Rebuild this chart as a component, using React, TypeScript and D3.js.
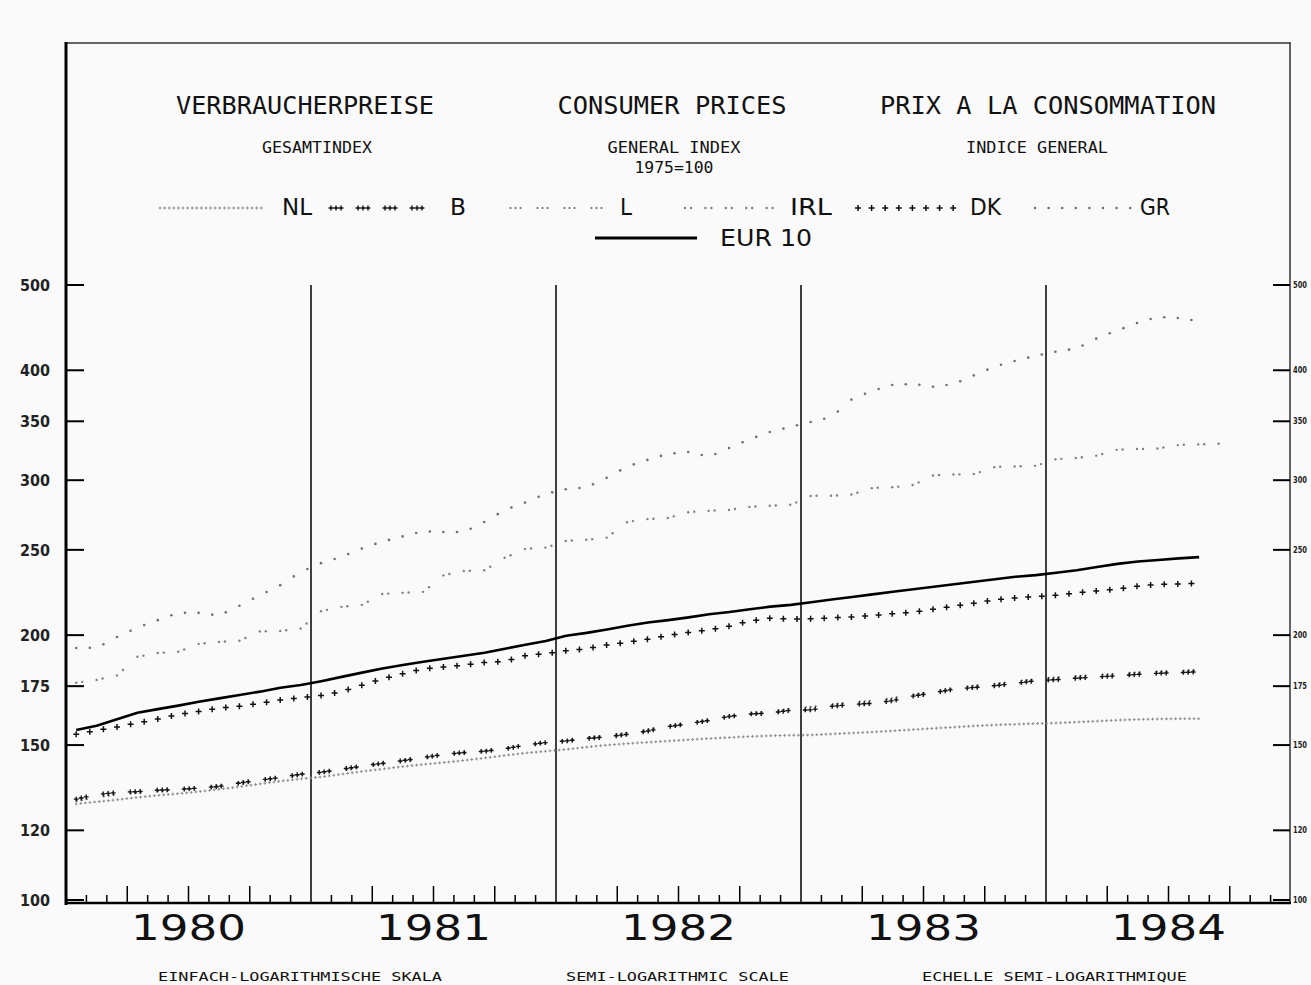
import React from "react";
import * as d3 from "d3";

// ---- DATA (monthly, Jan 1980 .. Aug 1984; 1975 = 100) ----
const YEARS = ["1980", "1981", "1982", "1983", "1984"];
const Y_TICKS = [100, 120, 150, 175, 200, 250, 300, 350, 400, 500];

const EUR10 = [
  156, 157.8, 160.5, 163.2, 164.8, 166.3, 168, 169.5, 171, 172.5, 174.3, 175.5,
  177.3, 179.3, 181.3, 183.3, 185, 186.5, 188, 189.5, 191, 193, 195, 197,
  199.7, 201.2, 203, 205, 206.7, 208, 209.5, 211.2, 212.5, 214, 215.5, 216.5,
  218, 219.5, 221, 222.5, 224, 225.5, 227, 228.5, 230, 231.5, 233, 234,
  235.5, 237, 239, 241, 242.5, 243.5, 244.5, 245.3,
];
const DK = [
  154.3, 155.8, 157.3, 158.9, 160.6, 162.5, 163.8, 165.2, 166, 167.3, 168.8, 169.7,
  170.8, 172.5, 175.5, 178.3, 180.8, 183.1, 184, 184.9, 186.2, 186.8, 189.6, 190.5,
  192, 193, 195, 196.3, 197.9, 199.8, 201.4, 202.8, 204.8, 207.5, 209.1, 208.6,
  208.8, 209.2, 209.8, 210.5, 211.5, 212.5, 214, 215.8, 217.5, 219.3, 220.5, 221.2,
  222, 223.3, 224.6, 225.6, 227.3, 228.5, 228.7, 229.1,
];
const GR = [
  193.4, 193.5, 199, 204, 208, 212, 212, 210.5, 216, 222, 228, 236,
  241.5, 245.5, 251, 255.5, 259, 262.5, 262, 262, 269, 277.5, 283, 289.5,
  293, 294.5, 302, 311, 316.5, 321.5, 323, 319, 326.5, 334, 340.5, 345,
  349.5, 354, 371, 379, 385, 386, 383, 386, 395, 404, 410, 415.5,
  420, 423.5, 435, 444, 453, 460, 458.5, 455,
];
const IRL = [
  176.6, 177.9, 180, 189, 190.9, 191.5, 195.5, 196.5, 197.1, 202, 202.2, 203.5,
  213, 215.4, 216.5, 222.8, 223.4, 224, 234, 236.6, 237, 245, 250.6, 251.5,
  256, 256.7, 258.2, 269, 271, 271.8, 276, 276.9, 277.6, 279.8, 280.6, 281.3,
  288, 288, 289, 294, 294.5, 296.3, 304, 304.5, 305, 310.6, 311, 311.5,
  317, 318, 320, 325, 325.5, 326, 329, 329.5, 330,
];
const B = [
  130.2, 131.8, 132.5, 132.8, 133.3, 133.6, 134, 134.6, 135.8, 136.9, 137.8, 139,
  139.7, 140.8, 142, 143, 144, 145.2, 146.4, 147.1, 147.6, 148.5, 150, 151,
  151.6, 152.6, 153.2, 154.3, 155.6, 157.4, 158.6, 160, 161.7, 162.7, 163.1, 164.3,
  164.5, 166, 166.8, 167.3, 168.5, 170.5, 172, 173.6, 174.4, 175.2, 176.3, 177.5,
  178, 178.7, 179.3, 179.8, 180.5, 181, 181.3, 181.7,
];
const L = [
  129.5, 130.8, 131.8, 132.3, 132.9, 133.4, 134.1, 135, 135.9, 136.8, 137.8, 138.8,
  139.6, 140.5, 141.6, 142.8, 143.8, 144.8, 146, 146.9, 147.8, 148.8, 149.9, 150.8,
  151.8, 153, 153.8, 154.9, 156.2, 157.8, 158.9, 160.2, 161.7, 163, 163.8, 165,
  165.8, 166.9, 167.8, 168.5, 169.6, 171.2, 172.6, 174, 175.2, 176.1, 177.2, 178.3,
  179.1, 179.7, 180.2, 180.8, 181.4, 181.8, 182.2, 182.6,
];
const NL = [
  128.6, 129.3, 130, 130.8, 131.5, 132.1, 132.8, 133.6, 134.5, 135.5, 136.5, 137.3,
  138, 139, 140, 140.9, 141.8, 142.6, 143.3, 144.1, 145, 146, 146.9, 147.6,
  148.3, 149.2, 150, 150.6, 151.1, 151.6, 152.1, 152.6, 153, 153.4, 153.7, 153.9,
  154, 154.4, 154.8, 155.2, 155.7, 156.2, 156.7, 157.2, 157.7, 158.1, 158.4, 158.7,
  158.9, 159.3, 159.7, 160.1, 160.4, 160.6, 160.7, 160.7,
];

// ---- SCALES ----
const x = d3.scaleLinear().domain([0, 60]).range([66, 1291]);
const y = d3.scaleLog().domain([100, 500]).range([900, 285]);

type Pt = [number, number];

function sampleSeries(values: number[], period: number, offsets: number[]): Pt[] {
  const pts: Pt[] = values.map((v, i) => [x(i + 0.5), y(v)]);
  const out: Pt[] = [];
  const x0 = pts[0][0];
  const x1 = pts[pts.length - 1][0];
  const step = pts[1][0] - pts[0][0];
  for (let t = x0; t <= x1 + 0.01; t += period) {
    for (const o of offsets) {
      const xx = t + o;
      if (xx > x1 + 0.01) continue;
      const k = Math.max(0, Math.min(Math.floor((xx - x0) / step), pts.length - 2));
      const [ax, ay] = pts[k];
      const [bx, by] = pts[k + 1];
      const f = (xx - ax) / (bx - ax);
      out.push([xx, ay + f * (by - ay)]);
    }
  }
  return out;
}

function sampleFlat(xa: number, xb: number, yy: number, period: number, offsets: number[]): Pt[] {
  const out: Pt[] = [];
  for (let t = xa; t <= xb + 0.01; t += period) {
    for (const o of offsets) {
      if (t + o <= xb + 0.01) out.push([t + o, yy]);
    }
  }
  return out;
}

type Style = {
  kind: "dot" | "plus";
  period: number;
  offsets: number[];
  size: number;
  color: string;
  width?: number;
};

const STYLES: Record<string, Style> = {
  NL: { kind: "plus", period: 4.6, offsets: [0], size: 1.4, color: "#8c8c8c", width: 1 },
  B: { kind: "plus", period: 27, offsets: [0, 5, 10], size: 2.4, color: "#111", width: 1.4 },
  L: { kind: "dot", period: 27, offsets: [0.5, 5.5, 10.5], size: 1.1, color: "#6a6a6a" },
  IRL: { kind: "dot", period: 20.4, offsets: [0, 6], size: 1.2, color: "#808080" },
  DK: { kind: "plus", period: 13.6, offsets: [0], size: 3, color: "#111", width: 1.5 },
  GR: { kind: "dot", period: 13.6, offsets: [0], size: 1.3, color: "#707070" },
};

function Markers({ pts, s, k }: { pts: Pt[]; s: Style; k: string }) {
  if (s.kind === "dot") {
    return (
      <g fill={s.color}>
        {pts.map((p, i) => (
          <circle key={k + i} cx={p[0]} cy={p[1]} r={s.size} />
        ))}
      </g>
    );
  }
  const d = pts
    .map((p) => `M${p[0] - s.size},${p[1]}h${2 * s.size}M${p[0]},${p[1] - s.size}v${2 * s.size}`)
    .join("");
  return <path d={d} stroke={s.color} strokeWidth={s.width} fill="none" />;
}

const SERIES: { key: string; values: number[] }[] = [
  { key: "NL", values: NL },
  { key: "L", values: L },
  { key: "B", values: B },
  { key: "IRL", values: IRL },
  { key: "GR", values: GR },
  { key: "DK", values: DK },
];

const LEGEND = [
  { key: "NL", x0: 160, x1: 262, lx: 282, lw: 30 },
  { key: "B", x0: 331, x1: 432, lx: 450, lw: 16 },
  { key: "L", x0: 510, x1: 610, lx: 620, lw: 12 },
  { key: "IRL", x0: 685, x1: 780, lx: 790, lw: 42 },
  { key: "DK", x0: 858, x1: 960, lx: 970, lw: 31 },
  { key: "GR", x0: 1035, x1: 1135, lx: 1140, lw: 30 },
];

const MONO = "'DejaVu Sans Mono', 'Liberation Mono', monospace";
const SANS = "'DejaVu Sans', 'Liberation Sans', sans-serif";

export default function App() {
  const eurLine = d3
    .line<number>()
    .x((_, i) => x(i + 0.5))
    .y((v) => y(v))(EUR10) as string;

  const monthTicks: number[] = d3.range(1, 60).filter((m) => m % 12 !== 0);
  const yearLines = [12, 24, 36, 48];

  return (
    <svg
      width={1311}
      height={985}
      style={{ position: "absolute", left: 0, top: 0, background: "#fafafa" }}
    >
      <rect x={0} y={0} width={1311} height={985} fill="#fafafa" />

      {/* frame */}
      <line x1={66} x2={1291} y1={43} y2={43} stroke="#333" strokeWidth={1.6} />
      <line x1={1290} x2={1290} y1={43} y2={904} stroke="#333" strokeWidth={1.5} />
      <line x1={66} x2={66} y1={42} y2={905} stroke="#000" strokeWidth={3} />
      <line x1={65} x2={1291} y1={903} y2={903} stroke="#000" strokeWidth={2.5} />

      {/* titles */}
      <g fontFamily={MONO} fill="#111">
        <text x={305} y={114} fontSize={25} textAnchor="middle" textLength={258} lengthAdjust="spacingAndGlyphs">VERBRAUCHERPREISE</text>
        <text x={672} y={114} fontSize={25} textAnchor="middle" textLength={229} lengthAdjust="spacingAndGlyphs">CONSUMER PRICES</text>
        <text x={1048} y={114} fontSize={25} textAnchor="middle" textLength={336} lengthAdjust="spacingAndGlyphs">PRIX A LA CONSOMMATION</text>
        <text x={317} y={153} fontSize={15} textAnchor="middle" textLength={110} lengthAdjust="spacingAndGlyphs">GESAMTINDEX</text>
        <text x={674} y={153} fontSize={15} textAnchor="middle" textLength={133} lengthAdjust="spacingAndGlyphs">GENERAL INDEX</text>
        <text x={674} y={173} fontSize={15} textAnchor="middle" textLength={79} lengthAdjust="spacingAndGlyphs">1975=100</text>
        <text x={1037} y={153} fontSize={15} textAnchor="middle" textLength={142} lengthAdjust="spacingAndGlyphs">INDICE GENERAL</text>
      </g>

      {/* legend */}
      {LEGEND.map((l) => {
        const s = STYLES[l.key];
        return (
          <g key={"lg" + l.key}>
            <Markers pts={sampleFlat(l.x0, l.x1, 208, s.period, s.offsets)} s={s} k={"lg" + l.key} />
            <text x={l.lx} y={215} fontFamily={SANS} fontSize={23} fill="#111" textLength={l.lw} lengthAdjust="spacingAndGlyphs">
              {l.key}
            </text>
          </g>
        );
      })}
      <line x1={595} x2={697} y1={238} y2={238} stroke="#000" strokeWidth={3} />
      <text x={720} y={246} fontFamily={SANS} fontSize={23} fill="#111" textLength={92} lengthAdjust="spacingAndGlyphs">EUR 10</text>

      {/* y axis ticks & labels */}
      {Y_TICKS.map((t) => (
        <g key={"yt" + t}>
          <line x1={66} x2={84} y1={y(t)} y2={y(t)} stroke="#000" strokeWidth={2} />
          <line x1={1273} x2={1290} y1={y(t)} y2={y(t)} stroke="#000" strokeWidth={2} />
          <text x={20} y={y(t) + 6} fontFamily={SANS} fontWeight="bold" fontSize={15} fill="#222" textLength={30} lengthAdjust="spacingAndGlyphs">
            {t}
          </text>
          <text x={1293} y={y(t) + 3} fontFamily={SANS} fontWeight="bold" fontSize={8} fill="#222" textLength={14} lengthAdjust="spacingAndGlyphs">
            {t}
          </text>
        </g>
      ))}

      {/* month ticks */}
      {monthTicks.map((m) => (
        <line key={"mt" + m} x1={x(m)} x2={x(m)} y1={903} y2={m % 3 === 0 ? 886 : 895} stroke="#000" strokeWidth={1.5} />
      ))}

      {/* year lines */}
      {yearLines.map((m) => (
        <line key={"yl" + m} x1={x(m)} x2={x(m)} y1={y(500)} y2={903} stroke="#000" strokeWidth={1.5} />
      ))}

      {/* year labels */}
      {YEARS.map((yr, i) => (
        <text key={yr} x={x(i * 12 + 6)} y={940} fontFamily={SANS} fontSize={36} fill="#111" textAnchor="middle" textLength={115} lengthAdjust="spacingAndGlyphs">
          {yr}
        </text>
      ))}

      {/* bottom captions */}
      <g fontFamily={MONO} fontSize={12} fill="#111">
        <text x={158} y={981} textLength={284} lengthAdjust="spacingAndGlyphs">EINFACH-LOGARITHMISCHE SKALA</text>
        <text x={566} y={981} textLength={223} lengthAdjust="spacingAndGlyphs">SEMI-LOGARITHMIC SCALE</text>
        <text x={922} y={981} textLength={265} lengthAdjust="spacingAndGlyphs">ECHELLE SEMI-LOGARITHMIQUE</text>
      </g>

      {/* series */}
      {SERIES.map((sr) => {
        const s = STYLES[sr.key];
        return <Markers key={"s" + sr.key} pts={sampleSeries(sr.values, s.period, s.offsets)} s={s} k={"s" + sr.key} />;
      })}
      <path d={eurLine} fill="none" stroke="#000" strokeWidth={2.6} strokeLinejoin="round" />
    </svg>
  );
}
